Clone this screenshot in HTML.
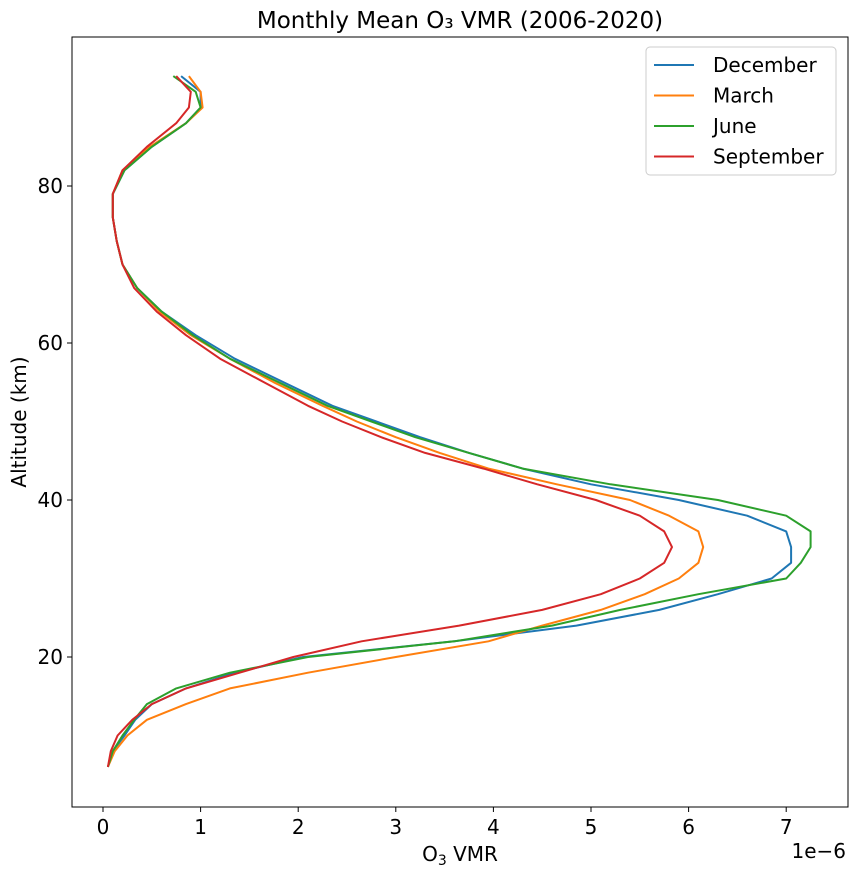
<!DOCTYPE html>
<html><head><meta charset="utf-8"><style>
body{margin:0;background:#fff}
svg{display:block;font-family:"DejaVu Sans","Liberation Sans",sans-serif}
</style></head><body>
<svg id="chart" width="856" height="876" xmlns="http://www.w3.org/2000/svg">
<text x="460" y="28" font-size="23" text-anchor="middle">Monthly Mean O₃ VMR (2006-2020)</text>
<rect x="72" y="37" width="776" height="770" fill="none" stroke="#000" stroke-width="1"/>
<g id="xticks"></g>
<g id="yticks"></g>
<g id="series"></g>
<text x="460" y="861" font-size="20" text-anchor="middle">O<tspan font-size="14" dy="4">3</tspan><tspan dy="-4"> VMR</tspan></text>
<text x="846" y="858" font-size="20" text-anchor="end">1e−6</text>
<text transform="translate(26,422) rotate(-90)" font-size="20" text-anchor="middle">Altitude (km)</text>
<g id="legend">
<rect x="646" y="47" width="190" height="128" rx="4" fill="#fff" stroke="#ccc"/>
</g>
</svg>
<script>
const altitudes=[6,8,10,12,14,16,18,20,22,24,26,28,30,32,34,36,38,40,42,44,46,48,50,52,55,58,61,64,67,70,73,76,79,82,85,88,90,92,94];
const december=[0.05,0.1,0.22,0.33,0.5,0.85,1.35,2.05,3.6,4.85,5.7,6.3,6.85,7.05,7.05,7.0,6.6,5.9,5.0,4.3,3.75,3.25,2.8,2.35,1.85,1.35,0.95,0.6,0.35,0.2,0.14,0.1,0.1,0.22,0.5,0.85,1.0,1.0,0.8];
const march=[0.05,0.12,0.25,0.45,0.85,1.3,2.1,3.0,3.95,4.5,5.1,5.55,5.9,6.1,6.15,6.1,5.8,5.4,4.65,3.95,3.45,3.0,2.6,2.25,1.75,1.3,0.9,0.58,0.35,0.2,0.14,0.1,0.1,0.2,0.48,0.85,1.02,1.0,0.88];
const june=[0.05,0.1,0.2,0.32,0.45,0.75,1.3,2.1,3.6,4.6,5.3,6.1,7.0,7.15,7.25,7.25,7.0,6.3,5.2,4.3,3.75,3.2,2.75,2.3,1.8,1.3,0.92,0.6,0.35,0.2,0.14,0.1,0.1,0.22,0.5,0.85,1.0,0.95,0.72];
const september=[0.05,0.08,0.15,0.3,0.5,0.85,1.4,1.95,2.65,3.65,4.5,5.1,5.5,5.75,5.83,5.75,5.5,5.05,4.45,3.9,3.3,2.85,2.45,2.1,1.65,1.2,0.85,0.55,0.32,0.2,0.14,0.1,0.1,0.2,0.45,0.75,0.88,0.9,0.75];
const seriesNames=["December","March","June","September"];
const seriesColors=["#1f77b4","#ff7f0e","#2ca02c","#d62728"];
const xTickValues=[0,1,2,3,4,5,6,7];
const yTickValues=[20,40,60,80];
const NS="http://www.w3.org/2000/svg";
function xs(v){return 103+v*97.6;}
function ys(a){return 814-a*7.85;}
function mk(t,attrs,parent){const e=document.createElementNS(NS,t);for(const k in attrs)e.setAttribute(k,attrs[k]);parent.appendChild(e);return e;}
const gx=document.getElementById('xticks'),gy=document.getElementById('yticks'),gs=document.getElementById('series'),gl=document.getElementById('legend');
xTickValues.forEach(v=>{
 const l=mk('line',{x1:xs(v),x2:xs(v),y1:807,y2:812,stroke:'#000'},gx);
 
 
 const t=mk('text',{x:xs(v),y:834,'font-size':20,'text-anchor':'middle'},gx);
 
 
 t.textContent=v;
});
yTickValues.forEach(v=>{
 const l=mk('line',{x1:67,x2:72,y1:ys(v),y2:ys(v),stroke:'#000'},gy);
 
 
 const t=mk('text',{x:63,y:ys(v)+7,'font-size':20,'text-anchor':'end'},gy);
 
 
 t.textContent=v;
});
[december,march,june,september].forEach((vals,i)=>{
 const pts=vals.map((v,j)=>xs(v).toFixed(1)+','+ys(altitudes[j]).toFixed(1)).join(' ');
 const p=mk('polyline',{points:pts,fill:'none',stroke:seriesColors[i],'stroke-width':2,'stroke-linejoin':'round'},gs);
 
 
 const y=65+i*30.5;
 const ll=mk('line',{x1:654,x2:694,y1:y,y2:y,stroke:seriesColors[i],'stroke-width':2},gl);
 
 
 const lt=mk('text',{x:713,y:y+7,'font-size':20},gl);
 
 
 lt.textContent=seriesNames[i];
});
</script>
</body></html>
